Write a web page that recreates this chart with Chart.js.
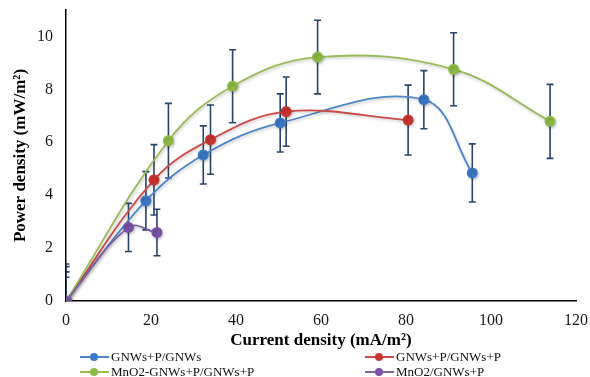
<!DOCTYPE html>
<html>
<head>
<meta charset="utf-8">
<script src="https://cdn.jsdelivr.net/npm/chart.js@4"></script>
<style>
  body { margin: 0; background: #fff; }
  #wrap { position: relative; width: 590px; height: 377px; }
</style>
</head>
<body>
<div id="wrap"><canvas id="grafico" width="590" height="377"></canvas></div>
<script>
// Dados
const seriesNames = ["GNWs+P/GNWs", "GNWs+P/GNWs+P", "MnO2-GNWs+P/GNWs+P", "MnO2/GNWs+P"];

const blueX = [0, 18.8, 32.3, 50.4, 84.2, 95.6];
const blueY = [0, 3.79, 5.52, 6.73, 7.61, 4.84];
const blueErr = [1.1, 1.1, 1.1, 1.1, 1.1, 1.1];

const redX = [0, 20.7, 34.0, 51.8, 80.5];
const redY = [0, 4.58, 6.1, 7.16, 6.84];
const redErr = [1.3, 1.33, 1.31, 1.31, 1.32];

const greenX = [0, 24.1, 39.2, 59.2, 91.2, 113.9];
const greenY = [0, 6.06, 8.12, 9.22, 8.76, 6.79];
const greenErr = [1.4, 1.41, 1.38, 1.39, 1.38, 1.4];

const purpleX = [0, 14.7, 21.4];
const purpleY = [0, 2.78, 2.59];
const purpleErr = [0.9, 0.91, 0.88];

const xTicks = [0, 20, 40, 60, 80, 100, 120];
const yTicks = [0, 2, 4, 6, 8, 10];

const FONT = "'Liberation Serif', 'Times New Roman', serif";
const ERR_COLOR = "#27446b";

function pts(xs, ys) {
  return xs.map((x, i) => ({ x: x, y: ys[i] }));
}

function serie(i, xs, ys, errs, line, marker, order) {
  return {
    label: seriesNames[i],
    data: pts(xs, ys),
    errors: errs,
    showLine: true,
    tension: 0.38,
    borderColor: line,
    borderWidth: 1.8,
    backgroundColor: marker,
    pointBackgroundColor: marker,
    pointBorderColor: marker,
    pointRadius: 4.6,
    pointHoverRadius: 4.6,
    order: order,
  };
}

const datasets = [
  serie(0, blueX, blueY, blueErr, "#4f86c6", "#3b78c6", 4),
  serie(1, redX, redY, redErr, "#cc4b48", "#c93532", 3),
  serie(2, greenX, greenY, greenErr, "#9bbb59", "#8dbb45", 2),
  serie(3, purpleX, purpleY, purpleErr, "#8064a2", "#7952a6", 1),
];

// barras de erro (antes das séries, para os marcadores ficarem por cima)
const errorBars = {
  id: "errorBars",
  beforeDatasetsDraw(chart) {
    const { ctx, chartArea, scales } = chart;
    ctx.save();
    ctx.beginPath();
    ctx.rect(chartArea.left, chartArea.top - 2, chartArea.right - chartArea.left, chartArea.bottom - chartArea.top + 2);
    ctx.clip();
    ctx.strokeStyle = ERR_COLOR;
    ctx.lineWidth = 1.6;
    chart.data.datasets.forEach((ds) => {
      ds.data.forEach((p, i) => {
        const e = ds.errors[i];
        const x = scales.x.getPixelForValue(p.x);
        const y1 = scales.y.getPixelForValue(p.y + e);
        const y2 = scales.y.getPixelForValue(p.y - e);
        ctx.beginPath();
        ctx.moveTo(x, y1);
        ctx.lineTo(x, y2);
        ctx.moveTo(x - 3.5, y1);
        ctx.lineTo(x + 3.5, y1);
        ctx.moveTo(x - 3.5, y2);
        ctx.lineTo(x + 3.5, y2);
        ctx.stroke();
      });
    });
    ctx.restore();
  },
  beforeDatasetDraw(chart) {
    const ctx = chart.ctx;
    ctx.save();
    ctx.shadowColor = "rgba(0,0,0,0.22)";
    ctx.shadowBlur = 3;
    ctx.shadowOffsetX = 1;
    ctx.shadowOffsetY = 1.5;
  },
  afterDatasetDraw(chart) {
    chart.ctx.restore();
  },
};

// legenda em duas colunas
const legenda = {
  id: "legenda",
  afterDraw(chart) {
    const ctx = chart.ctx;
    const pos = [
      { x: 80, y: 357 },
      { x: 365, y: 357 },
      { x: 80, y: 372 },
      { x: 365, y: 372 },
    ];
    ctx.save();
    ctx.font = "13px " + FONT;
    ctx.textBaseline = "middle";
    chart.data.datasets.forEach((ds, i) => {
      const p = pos[i];
      ctx.strokeStyle = ds.borderColor;
      ctx.lineWidth = 2;
      ctx.beginPath();
      ctx.moveTo(p.x, p.y);
      ctx.lineTo(p.x + 29, p.y);
      ctx.stroke();
      ctx.fillStyle = ds.pointBackgroundColor;
      ctx.beginPath();
      ctx.arc(p.x + 14, p.y, 4, 0, Math.PI * 2);
      ctx.fill();
      ctx.fillStyle = "#111";
      ctx.fillText(ds.label, p.x + 31, p.y + 0.5);
    });
    ctx.restore();
  },
};

const config = {
  type: "scatter",
  data: { datasets: datasets },
  options: {
    responsive: false,
    animation: false,
    layout: { padding: { top: 10, right: 14, left: 0, bottom: 0 } },
    plugins: {
      legend: { display: false },
      tooltip: { enabled: false },
    },
    scales: {
      x: {
        type: "linear",
        min: xTicks[0],
        max: xTicks[xTicks.length - 1],
        afterFit: (s) => { s.height = 76; s.paddingLeft = 0; s.paddingRight = 0; },
        grid: { display: false, drawTicks: false },
        border: { display: true, color: "#000", width: 1.5 },
        ticks: {
          stepSize: 20,
          padding: 10,
          color: "#1a1a1a",
          font: { family: FONT, size: 16 },
        },
        title: {
          display: true,
          text: "Current density (mA/m²)",
          color: "#000",
          font: { family: FONT, size: 17, weight: "bold" },
          padding: { top: 0, bottom: 26 },
        },
      },
      y: {
        type: "linear",
        min: 0,
        max: 11,
        afterFit: (s) => { s.width = 66; s.paddingTop = 0; s.paddingBottom = 0; },
        grid: { display: false, drawTicks: false },
        border: { display: true, color: "#000", width: 1.5 },
        ticks: {
          stepSize: 2,
          includeBounds: false,
          padding: 13,
          color: "#1a1a1a",
          font: { family: FONT, size: 16 },
        },
        title: {
          display: true,
          text: "Power density (mW/m²)",
          color: "#000",
          font: { family: FONT, size: 17, weight: "bold" },
          padding: { top: 10, bottom: 0 },
        },
      },
    },
  },
  plugins: [errorBars, legenda],
};

const grafico = new Chart(document.getElementById("grafico"), config);
</script>
</body>
</html>
